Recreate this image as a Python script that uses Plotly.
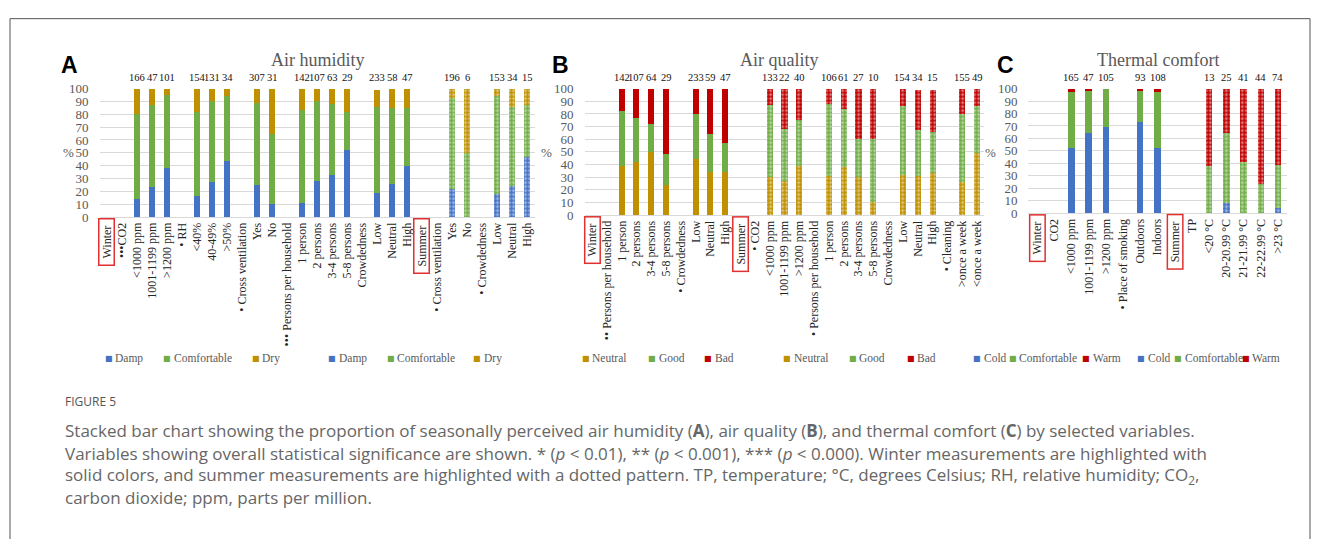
import plotly.graph_objects as go

W, H = 1322, 539

# ---------------- Panel A: Air humidity ----------------
A_labels = ["Winter", "•••CO2", "<1000 ppm", "1001-1199 ppm", ">1200 ppm", "• RH", "<40%", "40-49%", ">50%",
            "• Cross ventilation", "Yes", "No", "••• Persons per household", "1 person", "2 persons",
            "3-4 persons", "5-8 persons", "Crowdedness", "Low", "Neutral", "High", "Summer",
            "• Cross ventilation", "Yes", "No", "• Crowdedness", "Low", "Neutral", "High"]
A_damp = [None, None, 14, 23, 38, None, 16, 27, 44, None, 25, 10, None, 11, 28, 33, 52, None, 19, 26, 40,
          None, None, 22, 0, None, 18, 24, 47]
A_comf = [None, None, 66, 64, 57, None, 66, 63, 50, None, 64, 55, None, 72, 62, 55, 30, None, 67, 59, 45,
          None, None, 71, 50, None, 76, 62, 40]
A_dry = [None, None, 20, 13, 5, None, 18, 10, 6, None, 11, 35, None, 17, 10, 12, 18, None, 13, 15, 15,
         None, None, 7, 50, None, 6, 14, 13]
A_n = [None, None, 166, 47, 101, None, 154, 131, 34, None, 307, 31, None, 142, 107, 63, 29, None, 233, 58, 47,
       None, None, 196, 6, None, 153, 34, 15]
A_summer = 21

# ---------------- Panel B: Air quality ----------------
B_labels = ["Winter", "•• Persons per household", "1 person", "2 persons", "3-4 persons", "5-8 persons",
            "• Crowdedness", "Low", "Neutral", "High", "Summer", "• CO2", "<1000 ppm", "1001-1199 ppm",
            ">1200 ppm", "• Persons per household", "1 person", "2 persons", "3-4 persons", "5-8 persons",
            "Crowdedness", "Low", "Neutral", "High", "• Cleaning", ">once a week", "<once a week"]
B_neutral = [None, None, 39, 42, 50, 24, None, 44, 34, 34, None, None, 30, 27, 39, None, 31, 38, 30, 10,
             None, 32, 31, 33, None, 26, 49]
B_good = [None, None, 43, 35, 22, 24, None, 36, 30, 23, None, None, 57, 41, 36, None, 57, 46, 30, 50,
          None, 54, 36, 33, None, 54, 37]
B_bad = [None, None, 18, 23, 28, 52, None, 20, 36, 43, None, None, 13, 32, 25, None, 12, 16, 40, 40,
         None, 14, 32, 33, None, 20, 14]
B_n = [None, None, 142, 107, 64, 29, None, 233, 59, 47, None, None, 133, 22, 40, None, 106, 61, 27, 10,
       None, 154, 34, 15, None, 155, 49]
B_summer = 10

# ---------------- Panel C: Thermal comfort ----------------
C_labels = ["Winter", "CO2", "<1000 ppm", "1001-1199 ppm", ">1200 ppm", "• Place of smoking", "Outdoors",
            "Indoors", "Summer", "TP", "<20 °C", "20-20.99 °C", "21-21.99 °C", "22-22.99 °C", ">23 °C"]
C_cold = [None, None, 52, 64, 69, None, 73, 52, None, None, 0, 8, 0, 0, 4]
C_comf = [None, None, 45, 34, 31, None, 26, 45, None, None, 38, 56, 41, 23, 35]
C_warm = [None, None, 3, 2, 0, None, 1, 3, None, None, 62, 36, 59, 77, 61]
C_n = [None, None, 165, 47, 105, None, 93, 108, None, None, 13, 25, 41, 44, 74]
C_summer = 8

BLUE, GREEN, GOLD, RED = "#4472C4", "#70AD47", "#BF9000", "#C00000"
SERIF = "Liberation Serif"
GRAY = "#595959"
LABEL = "#262626"

fig = go.Figure()
annotations = []
shapes = []


def px(x):
    return x / W


def py(y):
    return 1 - y / H


panels = [
    dict(idx=1, labels=A_labels, series=[("Damp", A_damp, BLUE), ("Comfortable", A_comf, GREEN), ("Dry", A_dry, GOLD)],
         counts=A_n, summer=A_summer, width=0.4, xd=(99.5, 534.5), yd=(216, 84), title="Air humidity",
         tx=318, letter="A", lx=69.5, pct=68,
         leg=[113, 171.7, 260, 336.7, 395, 481.7]),
    dict(idx=2, labels=B_labels, series=[("Neutral", B_neutral, GOLD), ("Good", B_good, GREEN), ("Bad", B_bad, RED)],
         counts=B_n, summer=B_summer, width=0.41, xd=(584.6, 984.4), yd=(214, 84), title="Air quality",
         tx=779, letter="B", lx=560.5, pct=546,
         leg=[590, 656.7, 712.7, 791.7, 857, 915]),
    dict(idx=3, labels=C_labels, series=[("Cold", C_cold, BLUE), ("Comfortable", C_comf, GREEN), ("Warm", C_warm, RED)],
         counts=C_n, summer=C_summer, width=0.37, xd=(1028.4, 1286.6), yd=(212, 84), title="Thermal comfort",
         tx=1158, letter="C", lx=1005.5, pct=990,
         leg=[981.7, 1017, 1090.7, 1145.7, 1182.7, 1250]),
]

layout_axes = {}
for p in panels:
    i = p["idx"]
    xa = "x" if i == 1 else f"x{i}"
    ya = "y" if i == 1 else f"y{i}"
    xkey = "xaxis" if i == 1 else f"xaxis{i}"
    ykey = "yaxis" if i == 1 else f"yaxis{i}"
    n = len(p["labels"])
    for name, vals, color in p["series"]:
        for summer in (False, True):
            xs, ys = [], []
            for k, v in enumerate(vals):
                if v is None or (k >= p["summer"]) != summer:
                    continue
                xs.append(k)
                ys.append(v)
            marker = dict(color=color, line=dict(width=0))
            if summer:
                marker["pattern"] = dict(shape=".", fillmode="overlay", fgcolor="white", size=4, solidity=0.38)
            fig.add_trace(go.Bar(x=xs, y=ys, name=name, marker=marker, xaxis=xa, yaxis=ya,
                                 width=p["width"], showlegend=False))
    tick_idx = [k for k in range(n) if k not in (0, p["summer"])]
    layout_axes[xkey] = dict(domain=[px(p["xd"][0]), px(p["xd"][1])], range=[-0.5, n - 0.5],
                             tickvals=tick_idx, ticktext=[p["labels"][k] for k in tick_idx], tickangle=-90,
                             showgrid=False, zeroline=False, showline=True, linecolor="#D9D9D9", linewidth=1,
                             ticks="", tickfont=dict(family=SERIF, size=12, color=LABEL), anchor=ya)
    layout_axes[ykey] = dict(domain=[py(p["yd"][0]), py(p["yd"][1])], range=[0, 100], tick0=0, dtick=10,
                             showgrid=True, gridcolor="#D9D9D9", gridwidth=1, zeroline=False, showline=False,
                             ticks="", tickfont=dict(family=SERIF, size=13, color=GRAY), anchor=xa,
                             ticklabelstandoff=10)
    # season labels with red boxes
    for k, txt in ((0, "Winter"), (p["summer"], "Summer")):
        annotations.append(dict(x=k, xref=xa, y=py(p["yd"][0]), yref="paper", yanchor="top", xanchor="center",
                                text="&nbsp;&nbsp;" + txt + "&nbsp;&nbsp;", textangle=-90, showarrow=False,
                                font=dict(family=SERIF, size=12, color=LABEL),
                                bordercolor="#E03030", borderwidth=1.5, borderpad=0, yshift=-1))
    # counts
    for k, c in enumerate(p["counts"]):
        if c is None:
            continue
        annotations.append(dict(x=k, xref=xa, y=py(72.5), yref="paper", text=str(c), showarrow=False,
                                font=dict(family=SERIF, size=10.5, color="#111111"), xanchor="center",
                                yanchor="middle"))
    # titles, letters, percent
    annotations.append(dict(x=px(p["tx"]), y=py(55), xref="paper", yref="paper", text=p["title"], showarrow=False,
                            font=dict(family=SERIF, size=18, color=GRAY), xanchor="center", yanchor="middle"))
    annotations.append(dict(x=px(p["lx"]), y=py(60), xref="paper", yref="paper", text="<b>" + p["letter"] + "</b>",
                            showarrow=False, font=dict(family="Liberation Sans", size=23, color="#000000"),
                            xanchor="center", yanchor="middle"))
    annotations.append(dict(x=px(p["pct"]), y=py(150), xref="paper", yref="paper", text="%", showarrow=False,
                            font=dict(family=SERIF, size=13, color=GRAY), xanchor="center", yanchor="middle"))
    # legend entries (winter solid, summer dotted)
    names = [s[0] for s in p["series"]] * 2
    colors = [s[2] for s in p["series"]] * 2
    for j, (nm, col, lx) in enumerate(zip(names, colors, p["leg"])):
        annotations.append(dict(x=px(lx - 4.3), y=py(361.5), xref="paper", yref="paper", text="■", showarrow=False,
                                font=dict(family="DejaVu Sans", size=8, color=col), xanchor="center",
                                yanchor="middle"))
        annotations.append(dict(x=px(lx), y=py(361.5), xref="paper", yref="paper", text=nm, showarrow=False,
                                font=dict(family=SERIF, size=11.5, color=GRAY), xanchor="left",
                                yanchor="middle"))

# caption
CAP = "Open Sans"
cap_lines = [
    "Stacked bar chart showing the proportion of seasonally perceived air humidity (<b>A</b>), air quality (<b>B</b>), and thermal comfort (<b>C</b>) by selected variables.",
    "Variables showing overall statistical significance are shown. * (<i>p</i> &lt; 0.01), ** (<i>p</i> &lt; 0.001), *** (<i>p</i> &lt; 0.000). Winter measurements are highlighted with",
    "solid colors, and summer measurements are highlighted with a dotted pattern. TP, temperature; °C, degrees Celsius; RH, relative humidity; CO<sub>2</sub>,",
    "carbon dioxide; ppm, parts per million.",
]
annotations.append(dict(x=px(63), y=py(406), xref="paper", yref="paper", text="FIGURE 5", showarrow=False,
                        font=dict(family=CAP, size=12, color="#555555"), xanchor="left", yanchor="middle"))
for j, line in enumerate(cap_lines):
    annotations.append(dict(x=px(63), y=py(436 + 23 * j), xref="paper", yref="paper", text=line, showarrow=False,
                            font=dict(family=CAP, size=17, color="#666666"), xanchor="left", yanchor="middle"))

# outer frame
shapes.append(dict(type="rect", xref="paper", yref="paper", x0=px(10), x1=px(1310), y0=-0.2, y1=py(12),
                   line=dict(color="#555555", width=1), fillcolor="rgba(0,0,0,0)"))

fig.update_layout(width=W, height=H, margin=dict(l=0, r=0, t=0, b=0), barmode="stack",
                  plot_bgcolor="white", paper_bgcolor="white", showlegend=False,
                  annotations=annotations, shapes=shapes, **layout_axes)

fig.write_html("out.html")
